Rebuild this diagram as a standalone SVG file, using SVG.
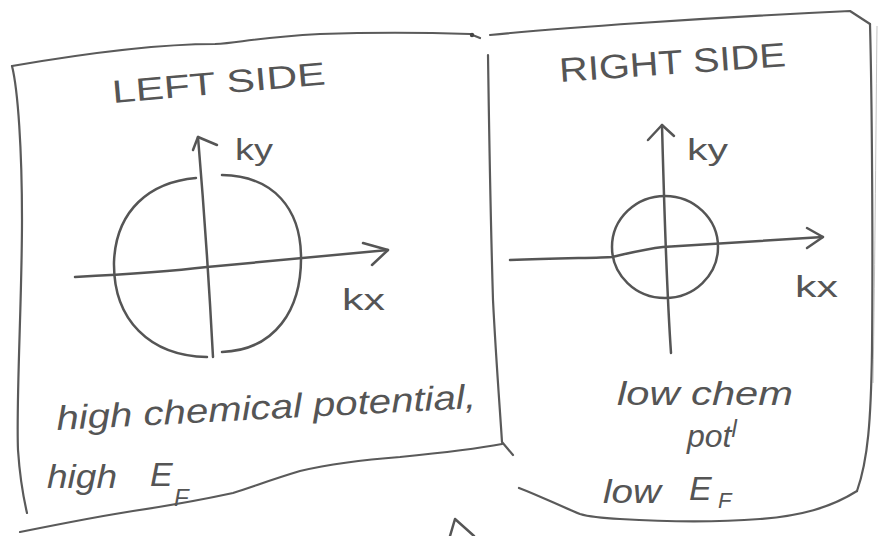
<svg xmlns="http://www.w3.org/2000/svg" width="880" height="536" viewBox="0 0 880 536">
<defs>
<style>
.ln{fill:none;stroke:#5a5a5a;stroke-width:2.2;stroke-linecap:round;stroke-linejoin:round}
.ax{fill:none;stroke:#555;stroke-width:2.5;stroke-linecap:round;stroke-linejoin:round}
.faint{fill:none;stroke:#9a9a9a;stroke-width:1;opacity:.6}
.t{font-family:"Liberation Sans","DejaVu Sans",sans-serif;fill:#555}
.cap{font-size:32px}
.hw{font-style:italic;font-size:34px}
.lab{font-size:30px}
</style>
</defs>
<rect width="880" height="536" fill="#fff"/>

<g id="left-panel">
  <path class="ln" d="M12,66 C70,56 150,44 215,44 C240,43 250,38 320,34 C380,32 440,33 470,34 L480,38"/>
  <circle cx="472" cy="35" r="2.2" fill="#444"/>
  <path class="ln" d="M12,66 C18,90 22,150 22,220 C22,300 16,400 18,450 C20,480 24,500 27,513"/>
  <path class="ln" d="M20,532 C70,522 100,516 133,511 C180,504 210,498 233,493 C255,486 270,480 300,471 C330,464 360,460 400,457 C440,453 470,450 502,444"/>
  <path class="ln" d="M488,55 C489,120 490,200 493,300 C496,360 500,410 502,442 L513,455"/>
  <text class="t cap" x="113" y="103" textLength="214" lengthAdjust="spacingAndGlyphs" transform="rotate(-5 113 103)">LEFT SIDE</text>
</g>

<g id="left-axes">
  <path class="ax" d="M75,277 C150,273 190,269 207,267 C260,262 320,256 388,250"/>
  <path class="ax" d="M363,243 L388,250 L372,265"/>
  <path class="ax" d="M198,137 C205,220 210,300 213,357"/>
  <path class="ax" d="M193,150 L198,137 L217,145"/>
  <text class="t lab" x="235" y="160" textLength="38" lengthAdjust="spacingAndGlyphs">ky</text>
  <text class="t lab" x="342" y="310" textLength="43" lengthAdjust="spacingAndGlyphs">kx</text>
</g>

<g id="left-fermi-surface">
  <path class="ax" d="M196,178 C150,182 116,210 114,262 C113,320 150,356 207,357"/>
  <path class="ax" d="M222,175 C275,176 300,210 301,255 C302,310 275,350 222,352"/>
</g>

<g id="left-caption">
  <text class="t hw" x="57" y="430" textLength="420" lengthAdjust="spacingAndGlyphs" transform="rotate(-3 57 430)">high chemical potential,</text>
  <text class="t hw" x="47" y="488" textLength="70" lengthAdjust="spacingAndGlyphs">high</text>
  <text class="t hw" x="150" y="486">E</text>
  <text class="t hw" x="174" y="506" style="font-size:24px">F</text>
</g>

<g id="right-panel">
  <path class="ln" d="M490,35 C560,28 700,18 850,11 L870,24"/>
  <path class="ln" d="M870,24 C872,100 873,250 872,350 C871,420 868,460 857,491"/>
  <path class="faint" d="M877,26 C876,120 875,260 873,383"/>
  <path class="ln" d="M857,491 C830,508 800,516 760,519 C720,522 670,522 620,519 C600,518 590,517 580,514 C560,506 540,496 519,488"/>
  <text class="t cap" x="560" y="82" style="font-size:34px" textLength="227" lengthAdjust="spacingAndGlyphs" transform="rotate(-4 560 82)">RIGHT SIDE</text>
</g>

<g id="right-axes">
  <path class="ax" d="M510,260 C560,258 600,258 612,257 C630,253 645,249 663,247 L823,237"/>
  <path class="ax" d="M807,228 L823,237 L807,248"/>
  <path class="ax" d="M662,125 C664,200 666,280 671,353"/>
  <path class="ax" d="M648,140 L662,125 L674,136"/>
  <text class="t lab" x="687" y="160" textLength="41" lengthAdjust="spacingAndGlyphs">ky</text>
  <text class="t lab" x="795" y="297" textLength="43" lengthAdjust="spacingAndGlyphs">kx</text>
</g>

<g id="right-fermi-surface">
  <ellipse class="ax" cx="665" cy="247" rx="53" ry="51"/>
</g>

<g id="right-caption">
  <text class="t hw" x="617" y="405" textLength="176" lengthAdjust="spacingAndGlyphs">low chem</text>
  <text class="t hw" x="687" y="447" style="font-size:32px">pot<tspan dy="-10" style="font-size:24px">l</tspan></text>
  <text class="t hw" x="603" y="503" textLength="58" lengthAdjust="spacingAndGlyphs">low</text>
  <text class="t hw" x="689" y="500">E</text>
  <text class="t hw" x="718" y="508" style="font-size:22px">F</text>
</g>

<g id="connectors">
  <path class="ax" d="M450,536 L455,519 L474,536"/>
</g>
</svg>
